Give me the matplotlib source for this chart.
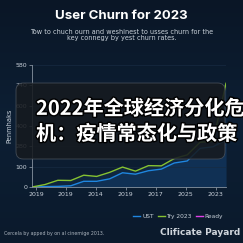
import matplotlib
matplotlib.use("Agg")
import matplotlib.pyplot as plt
import matplotlib.patheffects as pe
from matplotlib.patches import FancyBboxPatch
import numpy as np

# ---- data ----
x_idx = list(range(16))
ust = [0, 2, 3, 6, 28, 28, 40, 70, 63, 80, 88, 118, 128, 190, 198, 232]
try2023 = [0, 12, 33, 32, 58, 52, 72, 98, 78, 105, 104, 140, 158, 220, 225, 510]
ready = []
xtick_labels = ["2019", "2019", "2014", "2019", "2017", "2025", "2023"]
ytick_values = [0, 100, 200, 300, 400, 500, 600]
ytick_labels = ["0", "100", "280", "400", "600", "740", "580"]
series_names = ["UST", "Try 2023", "Ready"]
title = "User Churn for 2023"
subtitle = "Tow to chuch ourn and weshinest to usses churn for the\nkey connegy by yest churn rates."
ylabel = "Penmhaks"
overlay = "2022年全球经济分化危\n机：疫情常态化与政策"
footer_left = "Cercela by apped by on al cinemige 2013."
footer_right = "Clificate Payard"

BG = "#0c1b2d"
BLUE = "#1f86e0"
GREEN = "#86c232"
MAGENTA = "#e040e8"
TXT = "#c9d1da"

fig = plt.figure(figsize=(2.43, 2.43), dpi=100)
fig.patch.set_facecolor(BG)

# background gradient
bgax = fig.add_axes([0, 0, 1, 1], zorder=-10)
grad = np.linspace(0, 1, 256).reshape(-1, 1)
bgax.imshow(grad, aspect="auto", cmap=matplotlib.colors.LinearSegmentedColormap.from_list(
    "bg", ["#0a1626", "#0d1f34", "#0b1a2c"]), extent=[0, 1, 0, 1])
bgax.axis("off")

ax = fig.add_axes([32/243, 1-187/243, (226-32)/243, (187-65)/243])
ax.set_facecolor("none")

ax.fill_between(x_idx, try2023, 0, color="#12304f", alpha=0.5, lw=0)
ax.fill_between(x_idx, ust, 0, color="#123a66", alpha=0.55, lw=0)
ax.plot(x_idx, ust, color=BLUE, lw=1.0, label=series_names[0])
ax.plot(x_idx, try2023, color=GREEN, lw=1.0, label=series_names[1])
ax.plot(ready, ready, color=MAGENTA, lw=1.0, label=series_names[2])

ax.set_xlim(0, 15)
ax.set_ylim(0, 600)
ax.set_yticks(ytick_values)
ax.set_yticklabels(ytick_labels)
ax.set_xticks(np.linspace(0.3, 14.2, len(xtick_labels)))
ax.set_xticklabels(xtick_labels)
ax.tick_params(colors="#9aa6b2", labelsize=4.5, length=2, width=0.5, pad=1.5)
for t in ax.get_xticklabels() + ax.get_yticklabels():
    t.set_color(TXT)
ax.grid(axis="y", color="#172b42", lw=0.5)
for s in ["top", "right"]:
    ax.spines[s].set_visible(False)
for s in ["left", "bottom"]:
    ax.spines[s].set_color("#8893a0")
    ax.spines[s].set_linewidth(0.6)
ax.set_ylabel(ylabel, color=TXT, fontsize=4.8, labelpad=2)

leg = fig.legend(loc="center right", bbox_to_anchor=(0.94, 1-216/243), ncol=3,
                 frameon=False, fontsize=4.2, handlelength=1.2, columnspacing=0.7,
                 handletextpad=0.3)
for t in leg.get_texts():
    t.set_color(TXT)

fig.text(0.5, 1-16/243, title, ha="center", va="center", color="white",
         fontsize=9.5, fontweight="bold", family=["Inter", "DejaVu Sans"])
fig.text(0.5, 1-35/243, subtitle, ha="center", va="center", color=TXT,
         fontsize=4.7, linespacing=1.15)

box = FancyBboxPatch((16/243, 1-159/243), (225-16)/243, (159-83)/243,
                     boxstyle="round,pad=0,rounding_size=0.03", transform=fig.transFigure,
                     facecolor="#161a1f", edgecolor="#4a525c", lw=0.6, alpha=0.88, zorder=5)
fig.patches.append(box)
fig.text(36/243, 1-121/243, overlay, ha="left", va="center", color="white",
         fontsize=14.5, fontweight="bold", linespacing=1.25,
         family=["Noto Sans CJK SC", "DejaVu Sans"], zorder=6,
         path_effects=[pe.withStroke(linewidth=2, foreground="#000000")])

fig.text(4/243, 1-233/243, footer_left, ha="left", va="center", color="#aab3bd", fontsize=3.4)
fig.text(240/243, 1-232/243, footer_right, ha="right", va="center", color="#d0d6dc",
         fontsize=6.5, fontweight="bold")

fig.savefig("out.png", dpi=100, facecolor=BG)
